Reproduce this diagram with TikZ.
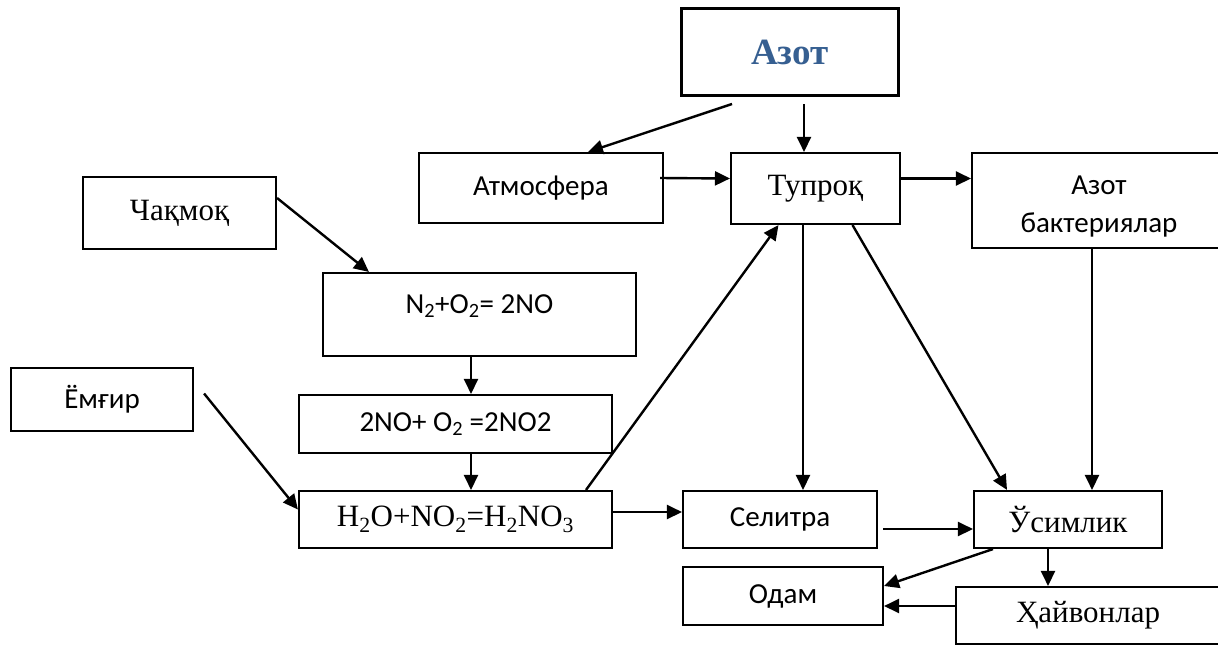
\documentclass[tikz,border=0pt]{standalone}
\usepackage{fontspec}
\setmainfont{Liberation Serif}
\newfontfamily\calfont{Carlito}
\usetikzlibrary{arrows.meta,positioning}
\definecolor{azotblue}{HTML}{365F91}

\begin{document}
\begin{tikzpicture}[x=1pt,y=-1pt,
    box/.style={draw,line width=2.1pt,inner sep=0pt},
    rm/.style={font=\fontsize{31}{36}\selectfont},
    sf/.style={font=\calfont\fontsize{29}{38}\selectfont},
    sz/.style 2 args={minimum width=#1pt,minimum height=#2pt},
    arr/.style={line width=2.4pt,-{Triangle[length=15pt,width=14pt]}}] %
    \useasboundingbox (0,0) rectangle (1218,646);
    % boxes
    \node[box,sz={217}{87},font=\bfseries\fontsize{37}{40}\selectfont,text=azotblue] (azot) at (790,52) {Азот};
    \node[box,sz={244}{70},sf] (atmo) at (541,188) {Атмосфера};
    \node[box,sz={169}{71},rm] (tuproq) at (815.5,188.5) {Тупроқ};
    \node[box,sz={254}{95},sf,align=center,text height=64pt,text depth=0pt] (bakt) at (1099,200.5) {Азот\\бактериялар};
    \node[box,sz={193}{72},rm] (chaqmoq) at (179.5,213) {Чақмоқ};
    \node[box,sz={313}{83},sf,text height=20pt,text depth=23pt] (reak1) at (479.5,314.5) {N\textsubscript{2}+O\textsubscript{2}= 2NO};
    \node[box,sz={182}{63},sf] (yomgir) at (102,399.5) {Ёмғир};
    \node[box,sz={313}{58},sf] (reak2) at (455.5,424) {2NO+ O\textsubscript{2} =2NO2};
    \node[box,sz={313}{57},rm] (reak3) at (455.5,519.5) {H\textsubscript{2}O+NO\textsubscript{2}=H\textsubscript{2}NO\textsubscript{3}};
    \node[box,sz={194}{57},sf] (selitra) at (780,519.5) {Селитра};
    \node[box,sz={188}{57},rm] (usimlik) at (1068,519.5) {Ўсимлик};
    \node[box,sz={200}{58},sf] (odam) at (783,596) {Одам};
    \node[box,sz={264}{57},rm] (hayvon) at (1088,615.5) {Ҳайвонлар};
    % free starts
    \coordinate (s1) at (732,104);
    \coordinate (s2) at (804,104);
    % arrows
    \draw[arr] (s1) -- ([xshift=47pt]atmo.north);
    \draw[arr] (s2) -- (s2 |- tuproq.north);
    \draw[arr] ([xshift=-4pt,yshift=10pt]atmo.east) -- ([yshift=10pt]tuproq.west);
    \draw[arr] ([yshift=10pt]tuproq.east) -- ([yshift=10pt]tuproq.east -| bakt.west);
    \draw[arr] ([yshift=15pt]chaqmoq.east) -- ([xshift=47pt]reak1.north west);
    \draw[arr] ([xshift=-8.5pt]reak1.south) -- ([xshift=-8.5pt]reak1.south |- reak2.north);
    \draw[arr] ([xshift=10pt,yshift=6pt]yomgir.east) -- ([yshift=10pt]reak3.west);
    \draw[arr] ([xshift=15.5pt]reak2.south) -- ([xshift=15.5pt]reak3.north);
    \draw[arr] ([xshift=130.5pt]reak3.north) -- ([xshift=-37pt]tuproq.south);
    \draw[arr] ([yshift=7.5pt]reak3.east) -- ([yshift=7.5pt]selitra.west);
    \draw[arr] ([xshift=-12.5pt]tuproq.south) -- ([xshift=-12.5pt]tuproq.south |- selitra.north);
    \draw[arr] ([xshift=37pt]tuproq.south) -- ([xshift=-61pt]usimlik.north);
    \draw[arr] ([xshift=-7pt]bakt.south) -- ([xshift=-7pt]bakt.south |- usimlik.north);
    \draw[arr] ([xshift=5pt,yshift=-9.5pt]selitra.east) -- ([yshift=-9.5pt]usimlik.west);
    \draw[arr] ([xshift=-75pt]usimlik.south) -- ([yshift=10pt]odam.east);
    \draw[arr] ([xshift=-20pt]usimlik.south) -- ([xshift=-20pt]usimlik.south |- hayvon.north);
    \draw[arr] ([yshift=9.5pt]hayvon.west) -- ([yshift=9.5pt]hayvon.west -| odam.east);
\end{tikzpicture}
\end{document}
